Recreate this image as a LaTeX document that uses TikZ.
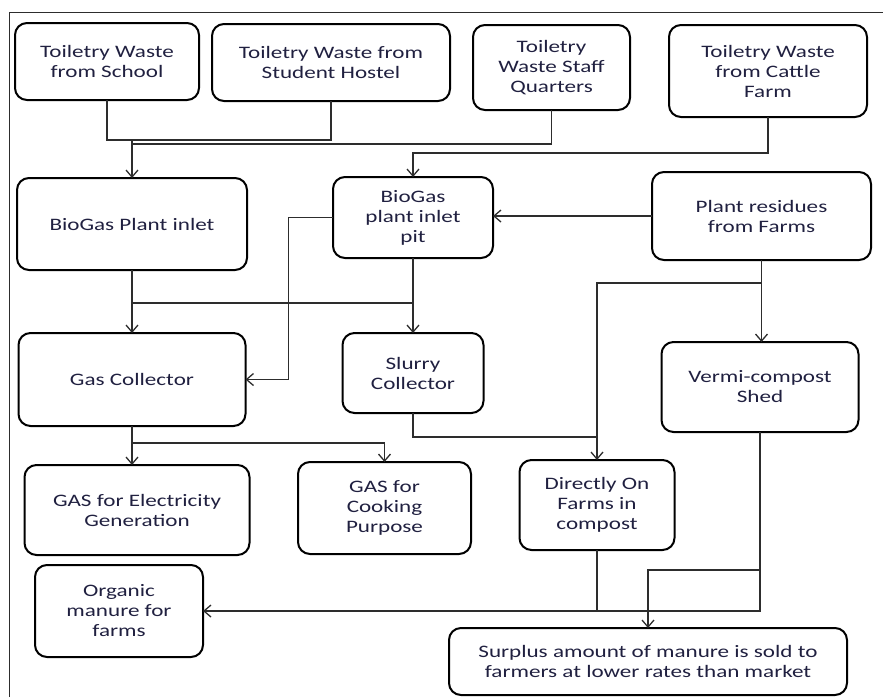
\documentclass[tikz,border=0pt]{standalone}
\usepackage{fontspec}
\setmainfont{Carlito}[FakeStretch=1.32]
\usetikzlibrary{arrows.meta}

\definecolor{txtcol}{RGB}{32,32,64}
\definecolor{linecol}{RGB}{45,45,45}

\tikzset{
  box/.style={draw=black, line width=2pt, rounded corners=12pt, outer sep=0pt,
    inner sep=2pt, align=center, text=txtcol,
    font=\fontsize{17.5}{20}\selectfont},
  conn/.style={draw=linecol, line width=1.3pt},
  arr/.style={conn, -{Straight Barb[length=7pt,width=12pt,line width=1.3pt]}},
}

\begin{document}
\begin{tikzpicture}[x=1pt,y=-1pt]

  \useasboundingbox (0,0) rectangle (883,697);
  \draw[linecol, line width=1pt] (9,697) -- (9,12) -- (883,12);

  % sources of waste
  \node[box, minimum width=184pt, minimum height=77pt] (school) at (107,61.5) {Toiletry Waste\\from School};
  \node[box, minimum width=238pt, minimum height=77pt] (hostel) at (331,62.5) {Toiletry Waste  from\\Student Hostel};
  \node[box, minimum width=157pt, minimum height=85pt] (staff) at (551.5,67.5) {Toiletry\\Waste Staff\\Quarters};
  \node[box, minimum width=198pt, minimum height=92pt] (cattle) at (768,71) {Toiletry Waste\\from Cattle\\Farm};

  % plant
  \node[box, minimum width=230pt, minimum height=92pt] (inlet) at (132,224) {BioGas Plant inlet};
  \node[box, minimum width=160pt, minimum height=81pt] (pit) at (413,217.5) {BioGas\\plant inlet\\pit};
  \node[box, minimum width=219pt, minimum height=88pt] (residue) at (761.5,216) {Plant residues\\from Farms};

  \node[box, minimum width=227pt, minimum height=93pt] (gascol) at (132,379.5) {Gas Collector};
  \node[box, minimum width=141pt, minimum height=80pt] (slurry) at (413,373) {Slurry\\Collector};
  \node[box, minimum width=197pt, minimum height=90pt] (vermi) at (760,387) {Vermi-compost\\Shed};

  % uses
  \node[box, minimum width=225pt, minimum height=90pt] (elec) at (137,510) {GAS for Electricity\\Generation};
  \node[box, minimum width=173pt, minimum height=92pt] (cook) at (384.5,508) {GAS for\\Cooking\\Purpose};
  \node[box, minimum width=155pt, minimum height=90pt] (direct) at (597,505) {Directly On\\Farms in\\compost};
  \node[box, minimum width=168pt, minimum height=92pt] (organic) at (119,611) {Organic\\manure for\\farms};
  \node[box, minimum width=398pt, minimum height=67pt] (surplus) at (648,661.5) {Surplus amount of manure is sold to\\farmers at lower rates than market};

  \coordinate (jtop) at (132,140);
  \coordinate (jstaff) at (132,144);
  \coordinate (jcattle) at (413,153);
  \coordinate (jmid) at (413,303);
  \coordinate (jslurry) at (597,437);

  % waste into the plant
  \draw[conn] (school.south) |- (jtop) -| (hostel.south);
  \draw[conn] (staff.south) |- (jstaff);
  \draw[arr] (jtop) -- (inlet.north);
  \draw[arr] (cattle.south) |- (jcattle) -- (pit.north);
  \draw[arr] (residue.west) -- (residue.west -| pit.east);

  % plant to collectors
  \draw[arr] (pit.west) -| ([xshift=43pt]gascol.east |- pit.west) |- (gascol.east);
  \draw[conn] (inlet.south |- jmid) -- (jmid);
  \draw[arr] (inlet.south) -- (gascol.north);
  \draw[arr] (pit.south) -- (slurry.north);

  % gas use
  \draw[arr] (gascol.south) -- (gascol.south |- elec.north);
  \draw[arr] (gascol.south) ++(0,17) -| (cook.north);

  % manure
  \draw[conn] (slurry.south) |- (jslurry);
  \draw[arr] (residue.south) -- (residue.south |- vermi.north);
  \draw[arr] (residue.south) ++(0,23) -| (direct.north);
  \draw[arr] (direct.south) |- (organic.east);
  \draw[conn] (vermi.south) |- (direct.south |- organic.east);
  \draw[arr] (vermi.south) ++(0,138) -| (surplus.north);

\end{tikzpicture}
\end{document}
